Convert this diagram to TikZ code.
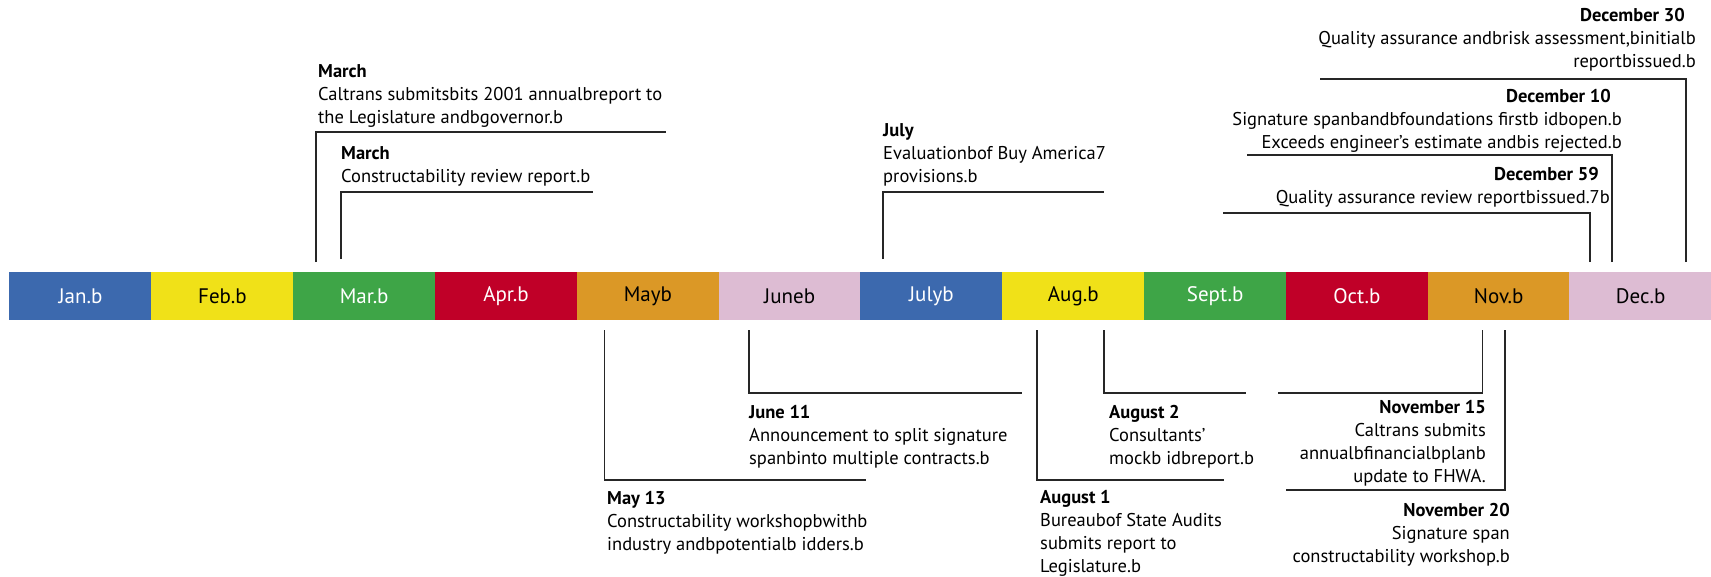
\documentclass[tikz,border=0pt]{standalone}
\usepackage{fontspec}
\setmainfont{PT Sans}
\usepackage{xcolor}
\usepackage{tikz}
\usetikzlibrary{calc}

\definecolor{mblue}{RGB}{60,105,174}
\definecolor{myellow}{RGB}{240,225,24}
\definecolor{mgreen}{RGB}{62,165,71}
\definecolor{mred}{RGB}{192,0,40}
\definecolor{morange}{RGB}{219,152,38}
\definecolor{mpink}{RGB}{221,188,211}

\begin{document}
\begin{tikzpicture}[x=1pt,y=-1pt]
            \tikzset{month/.style = {anchor=north west, minimum width=142.3pt, minimum height=48pt, inner sep=0pt, font=\fontsize{21}{25}\selectfont}}
            \tikzset{event/.style = {inner sep=0pt, font=\fontsize{18.5}{23}\selectfont}}
            \tikzset{bracket/.style = {line width=1.3pt, black!85}}
            \useasboundingbox (0,0) rectangle (1711,576);

            % months
            \foreach \m/\lab/\col/\txt [count=\i from 0] in {jan/Jan.b/mblue/white, feb/Feb.b/myellow/black, mar/Mar.b/mgreen/white, apr/Apr.b/mred/white, may/Mayb/morange/black, jun/Juneb/mpink/black, jul/Julyb/mblue/white, aug/Aug.b/myellow/black, sep/Sept.b/mgreen/white, oct/Oct.b/mred/white, nov/Nov.b/morange/black, dec/Dec.b/mpink/black}
            {
              \node[month, fill=\col, text=\txt] (\m) at ({9.2+141.82*\i},272) {\lab};
            }

            % events above (placed by the baseline of their last line)
            \node[event, anchor=base west, align=left] (mar1) at (318,123) {\textbf{March}\\Caltrans submitsbits 2001 annualbreport to\\the Legislature andbgovernor.b};
            \node[event, anchor=base west, align=left] (mar2) at (341,182) {\textbf{March}\\Constructability review report.b};
            \node[event, anchor=base west, align=left] (jul1) at (883,182) {\textbf{July}\\Evaluationbof Buy America7\\provisions.b};
            \node[event, anchor=base east, align=right] (dec30) at (1696,67) {\textbf{December 30}\hspace*{11pt}\\Quality assurance andbrisk assessment,binitialb\\reportbissued.b};
            \node[event, anchor=base east, align=right] (dec10) at (1622,148) {\textbf{December 10}\hspace*{11pt}\\Signature spanbandbfoundations firstb idbopen.b\\Exceeds engineer's estimate andbis rejected.b};
            \node[event, anchor=base east, align=right] (dec59) at (1610,203) {\textbf{December 59}\hspace*{11pt}\\Quality assurance review reportbissued.7b};

            % events below
            \node[event, anchor=base west, align=left] (may13) at (607,550) {\textbf{May 13}\\Constructability workshopbwithb\\industry andbpotentialb idders.b};
            \node[event, anchor=base west, align=left] (jun11) at (749,464) {\textbf{June 11}\\Announcement to split signature\\spanbinto multiple contracts.b};
            \node[event, anchor=base west, align=left] (aug1) at (1040,572) {\textbf{August 1}\\Bureaubof State Audits\\submits report to\\Legislature.b};
            \node[event, anchor=base west, align=left] (aug2) at (1109,464) {\textbf{August 2}\\Consultants'\\mockb idbreport.b};
            \node[event, anchor=base east, align=right] (nov15) at (1486,482) {\textbf{November 15}\\Caltrans submits\\annualbfinancialbplanb\\update to FHWA.};
            \node[event, anchor=base east, align=right] (nov20) at (1510,562) {\textbf{November 20}\\Signature span\\constructability workshop.b};

            % brackets
            \foreach \n/\xa/\ya/\xb/\yb in {mar1/316/262/666/132, mar2/341/259/593/192, jul1/883/259/1104/192, dec30/1686/262/1320/79, dec10/1612/262/1247/155, dec59/1590/262/1223/213, may13/604.5/330/866/480, jun11/749/330/1022/393, aug1/1037/330/1224/480, aug2/1104/330/1246/393, nov15/1482.5/330/1278/393, nov20/1505/330/1286/490}
            {
              \coordinate (\n a) at (\xa,\ya);
              \coordinate (\n b) at (\xb,\yb);
              \draw[bracket] (\n a) |- (\n b);
            }
          \end{tikzpicture}
\end{document}
